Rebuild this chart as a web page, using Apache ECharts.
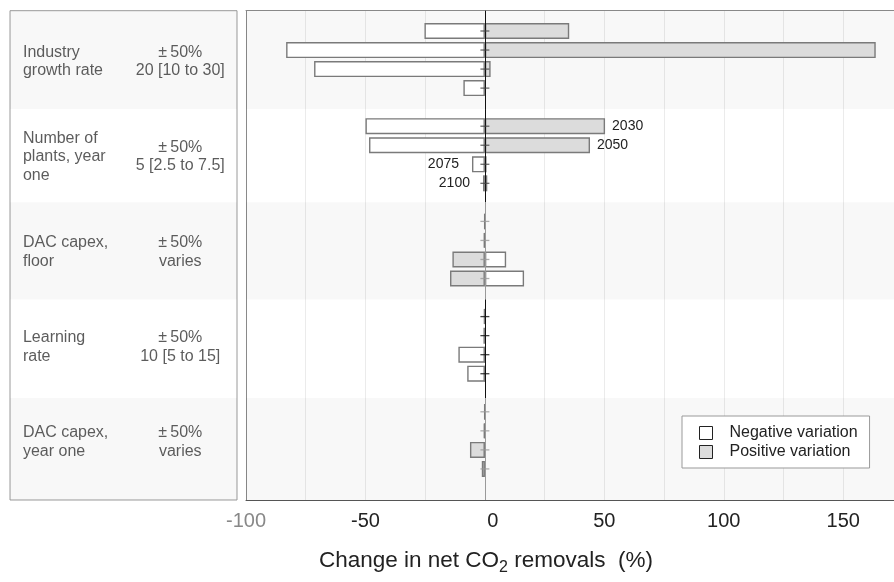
<!DOCTYPE html>
<html><head><meta charset="utf-8">
<script src="https://cdn.jsdelivr.net/npm/echarts@6/dist/echarts.min.js"></script>
<style>html,body{margin:0;padding:0;background:#fff;overflow:hidden}#c{width:894px;height:582px}</style>
</head><body><div id="c"></div>
<script>
// ---------------- data ----------------
const years = ['2030', '2050', '2075', '2100'];
const paramNames = ['Industry\ngrowth rate', 'Number of\nplants, year\none', 'DAC capex,\nfloor', 'Learning\nrate', 'DAC capex,\nyear one'];
const paramRanges = ['±\u200950%\n20 [10 to 30]', '±\u200950%\n5 [2.5 to 7.5]', '±\u200950%\nvaries', '±\u200950%\n10 [5 to 15]', '±\u200950%\nvaries'];
// change in net CO2 removals (%), per parameter, per year
const negativeVariation = [
  [-25.3, -83.2, -71.5, -9.0],
  [-50.0, -48.5, -5.4, -0.8],
  [0.2, 0.3, 8.9, 16.4],
  [-0.4, -0.6, -11.1, -7.4],
  [0.1, 0.2, 0, 0.3]
];
const positiveVariation = [
  [35.3, 163.6, 2.4, 0.3],
  [50.3, 44.0, 0.7, 1.0],
  [-0.2, -0.5, -13.6, -14.6],
  [0.2, 0.3, 0, 0],
  [-0.2, -0.5, -6.25, -1.3]
];
const xTickLabels = [-100, -50, 0, 50, 100, 150];
const labelledParam = 1;                     // years annotated on "Number of plants"
const labelOnPositive = [true, true, false, false];

// ---------------- layout ----------------
const FONT = 'Liberation Sans, Arial, Helvetica, sans-serif';
const SLOT = 19.04, FIRST = 31, PLOT_TOP = 10.7, PLOT_BOTTOM = 500, H = 582;
const X_MIN = -100, X_MAX = 171.25;
const frameMin = (PLOT_TOP - FIRST) / SLOT, frameMax = (PLOT_BOTTOM - FIRST) / SLOT;
const bandEdges = [frameMin, 4.1, 9.0, 14.1, 19.28, frameMax];
const bandFill = ['rgba(0,0,0,0.026)', 'rgba(0,0,0,0)', 'rgba(0,0,0,0.026)', 'rgba(0,0,0,0)', 'rgba(0,0,0,0.026)'];
const zeroColor = ['#111', '#111', '#9a9a9a', '#111', '#9a9a9a'];
const tickColor = ['#444', '#444', '#999', '#111', '#999'];
const NSLOT = 24;

const slotCats = [];
for (let s = 0; s < NSLOT; s++) slotCats.push('s' + s);

function buildBars(values, positive) {
  const out = new Array(NSLOT).fill('-');
  values.forEach((row, g) => row.forEach((v, j) => {
    const item = { value: v };
    if (g === labelledParam && labelOnPositive[j] === positive) {
      item.label = {
        show: true, formatter: years[j], position: positive ? 'right' : 'left',
        distance: positive ? 7 : 13, fontSize: 14, color: '#222', fontFamily: FONT
      };
    }
    out[g * 5 + j] = item;
  }));
  return out;
}
const ticks = [];
negativeVariation.forEach((row, g) => row.forEach((v, j) => {
  ticks.push({ value: [0, g * 5 + j], itemStyle: { color: tickColor[g] } });
}));

const bands = bandFill.map((c, g) => [{ yAxis: bandEdges[g], itemStyle: { color: c } }, { yAxis: bandEdges[g + 1] }]);
const zeroSegs = zeroColor.map((c, g) => [{ coord: [0, bandEdges[g]], lineStyle: { color: c } }, { coord: [0, bandEdges[g + 1]] }]);

const chart = echarts.init(document.getElementById('c'), null, { renderer: 'canvas' });
chart.setOption({
  animation: false,
  textStyle: { fontFamily: FONT },
  legend: {
    data: ['Negative variation', 'Positive variation'],
    orient: 'vertical', left: 682, top: 416,
    padding: [9, 12, 8, 17], itemGap: 3, itemWidth: 13, itemHeight: 13,
    icon: 'rect',
    itemStyle: { borderColor: '#222', borderWidth: 1 },
    textStyle: { fontSize: 16, color: '#222', lineHeight: 16, padding: [0, 0, 0, 12], fontFamily: FONT },
    backgroundColor: '#fff', borderColor: '#999', borderWidth: 1
  },
  grid: [
    { left: 246, right: -3, top: PLOT_TOP, bottom: H - PLOT_BOTTOM },                      // frame
    { left: 246, right: -3, top: FIRST - SLOT / 2, height: NSLOT * SLOT },                // bars
    { left: 10, width: 227, top: PLOT_TOP, bottom: H - PLOT_BOTTOM, show: true,
      borderColor: '#9a9a9a', borderWidth: 1, backgroundColor: 'transparent' }           // table
  ],
  xAxis: [
    { gridIndex: 0, type: 'value', min: X_MIN, max: X_MAX, interval: 25,
      axisLine: { show: true, onZero: false, lineStyle: { color: '#555', width: 1 } },
      axisTick: { show: false },
      splitLine: { show: true, lineStyle: { color: '#ebebeb', width: 1 } },
      axisLabel: {
        fontSize: 20, margin: 11, fontFamily: FONT, showMaxLabel: false,
        color: v => (Number(v) === -100 ? '#888' : '#222'),
        formatter: v => (xTickLabels.indexOf(v) >= 0 ? (v === 0 ? '{z|0}' : String(v)) : ''),
        rich: { z: { fontSize: 20, padding: [0, 0, 0, 16], color: '#222', fontFamily: FONT } }
      },
      name: 'Change in net CO{sub|2} removals  (%)', nameLocation: 'middle', nameGap: 45,
      nameTextStyle: {
        fontSize: 22.5, color: '#222', fontFamily: FONT, padding: [0, 168, 0, 0],
        rich: { sub: { fontSize: 16, color: '#222', padding: [15, 0, 0, 0], fontFamily: FONT } }
      }
    },
    { gridIndex: 0, type: 'value', position: 'top', min: X_MIN, max: X_MAX,
      axisLine: { show: true, onZero: false, lineStyle: { color: '#8a8a8a' } },
      axisTick: { show: false }, axisLabel: { show: false }, splitLine: { show: false } },
    { gridIndex: 1, type: 'value', min: X_MIN, max: X_MAX, show: false },
    { gridIndex: 2, type: 'value', min: 0, max: 1, show: false }
  ],
  yAxis: [
    { gridIndex: 0, type: 'value', inverse: true, min: frameMin, max: frameMax,
      axisLine: { show: true, onZero: false, lineStyle: { color: '#8a8a8a' } },
      axisTick: { show: false }, axisLabel: { show: false }, splitLine: { show: false } },
    { gridIndex: 1, type: 'category', inverse: true, data: slotCats, show: false },
    { gridIndex: 2, type: 'value', inverse: true, min: frameMin, max: frameMax, show: false }
  ],
  series: [
    { name: 'frame', type: 'line', xAxisIndex: 0, yAxisIndex: 0, data: [], silent: true,
      markArea: { silent: true, data: bands },
      markLine: { silent: true, symbol: 'none', label: { show: false },
        lineStyle: { type: 'solid', width: 1 }, data: zeroSegs } },
    { name: 'Negative variation', type: 'bar', xAxisIndex: 2, yAxisIndex: 1,
      barWidth: 16, barGap: '-100%', z: 2,
      itemStyle: { color: '#ffffff', borderColor: '#7a7a7a', borderWidth: 1.4 },
      data: buildBars(negativeVariation, false) },
    { name: 'Positive variation', type: 'bar', xAxisIndex: 2, yAxisIndex: 1,
      barWidth: 16, barGap: '-100%', z: 2,
      itemStyle: { color: '#dcdcdc', borderColor: '#7a7a7a', borderWidth: 1.4 },
      data: buildBars(positiveVariation, true) },
    { name: 'ticks', type: 'scatter', xAxisIndex: 2, yAxisIndex: 1, z: 6, silent: true,
      symbol: 'rect', symbolSize: [9, 1.3], data: ticks },
    { name: 'tableBands', type: 'scatter', xAxisIndex: 3, yAxisIndex: 2, silent: true,
      symbolSize: 0, data: paramNames.map((t, g) => ({ value: [0.057, g * 5 + 1.6], name: t })),
      label: { show: true, position: 'right', distance: 0, align: 'left', verticalAlign: 'middle',
        formatter: p => p.name, fontSize: 16, lineHeight: 18.5, color: '#333', fontFamily: FONT },
      markArea: { silent: true, data: bands } },
    { name: 'tableRanges', type: 'scatter', xAxisIndex: 3, yAxisIndex: 2, silent: true,
      symbolSize: 0, data: paramRanges.map((t, g) => ({ value: [0.75, g * 5 + 1.6], name: t })),
      label: { show: true, position: 'inside', align: 'center', verticalAlign: 'middle',
        formatter: p => p.name, fontSize: 16, lineHeight: 18.5, color: '#333', fontFamily: FONT } }
  ]
});
</script></body></html>
